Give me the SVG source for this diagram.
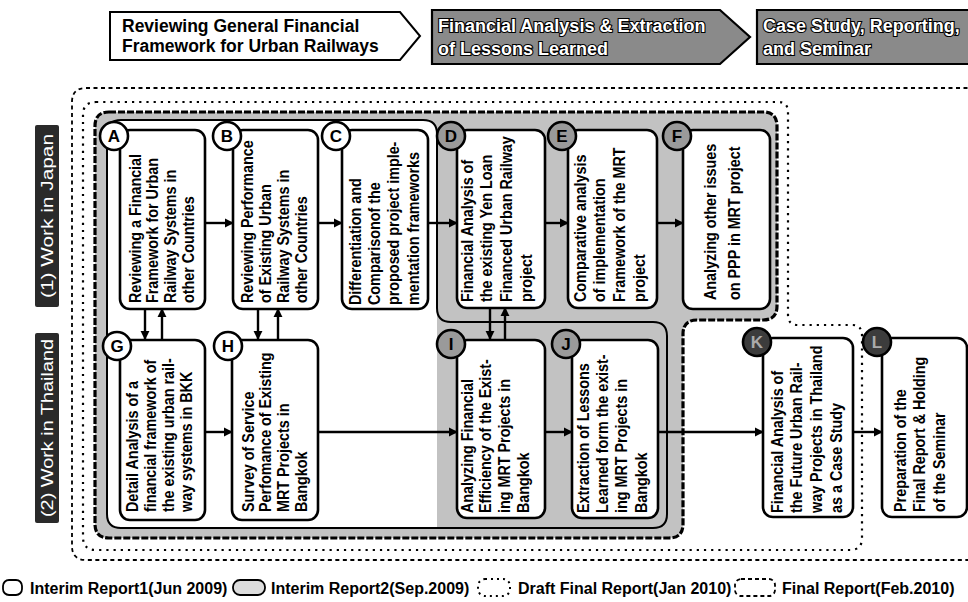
<svg xmlns="http://www.w3.org/2000/svg" width="968" height="602" viewBox="0 0 968 602">
<defs>
<marker id="ah" viewBox="0 0 10 10" refX="9" refY="5" markerWidth="3.8" markerHeight="3.8" orient="auto" markerUnits="strokeWidth">
<path d="M0,0 L10,5 L0,10 z" fill="#000"/>
</marker>
<style>
.box{fill:#fff;stroke:#000;stroke-width:2.6}
.t{font-family:"Liberation Sans",Arial,sans-serif;font-weight:bold;font-size:16.5px;fill:#000}
.cw{fill:#fff;stroke:#000;stroke-width:2.6}
.cg{fill:#9a9a9a;stroke:#000;stroke-width:2.6}
.cd{fill:#3c3c3c;stroke:#000;stroke-width:2.6}
.cl{font-family:"Liberation Sans",Arial,sans-serif;font-weight:bold;font-size:17px;text-anchor:middle;fill:#000}
.cld{font-family:"Liberation Sans",Arial,sans-serif;font-weight:bold;font-size:17px;text-anchor:middle;fill:#aaa}
.conn line{stroke:#000;stroke-width:2.4;fill:none;marker-end:url(#ah)}
.hd{font-family:"Liberation Sans",Arial,sans-serif;font-weight:bold;font-size:17.5px;fill:#000}
.hg{font-family:"Liberation Sans",Arial,sans-serif;font-weight:bold;font-size:18px;fill:#fff;stroke:#000;stroke-width:2.2;paint-order:stroke}
.lab{font-family:"Liberation Sans",Arial,sans-serif;font-size:17px;fill:#fff;text-anchor:middle}
.lg{font-family:"Liberation Sans",Arial,sans-serif;font-weight:bold;font-size:16px;fill:#000}
</style>
</defs>
<rect width="968" height="602" fill="#fff"/>

<!-- header -->
<g id="phase1">
<path d="M110,12 H400 L420,36 L400,60 H110 Z" fill="#fff" stroke="#000" stroke-width="2"/>
<text class="hd" x="122" y="32">Reviewing General Financial</text>
<text class="hd" x="122" y="52">Framework for Urban Railways</text>
</g>
<g id="phase2">
<path d="M432,10 H720 L750,37 L720,64 H432 Z" fill="#8a8a8a" stroke="#000" stroke-width="2.2"/>
<text class="hg" x="438" y="32">Financial Analysis &amp; Extraction</text>
<text class="hg" x="438" y="55">of Lessons Learned</text>
</g>
<g id="phase3">
<path d="M757,10 H975 V64 H757 Z" fill="#8a8a8a" stroke="#000" stroke-width="2.2"/>
<text class="hg" x="763" y="32">Case Study, Reporting,</text>
<text class="hg" x="763" y="55">and Seminar</text>
</g>

<!-- left labels -->
<g id="japan">
<rect x="35" y="125" width="24" height="182" rx="2" fill="#2a2a2a"/>
<text class="lab" transform="translate(53,216) rotate(-90)" textLength="164" lengthAdjust="spacingAndGlyphs">(1) Work in Japan</text>
</g>
<g id="thailand">
<rect x="35" y="333" width="24" height="190" rx="2" fill="#2a2a2a"/>
<text class="lab" transform="translate(53,428) rotate(-90)" textLength="178" lengthAdjust="spacingAndGlyphs">(2) Work in Thailand</text>
</g>

<!-- report boundaries -->
<g id="boundaries">
<path d="M975,88 H86 Q72,88 72,102 V546 Q72,560 86,560 H975" fill="none" stroke="#000" stroke-width="1.8" stroke-dasharray="4 3.5"/>
<path d="M96,102 H778 Q788,102 788,112 V315 Q788,325 798,325 H852 Q862,325 862,335 V538 Q862,550 850,550 H96 Q83,550 83,537 V115 Q83,102 96,102 Z" fill="none" stroke="#000" stroke-width="2.2" stroke-dasharray="2.2 5"/>
<path d="M109,112 H763 Q777,112 777,126 V306 Q777,320 763,320 H697 Q683,320 683,334 V524 Q683,538 669,538 H109 Q95,538 95,524 V126 Q95,112 109,112 Z" fill="#c2c2c2" stroke="#000" stroke-width="3.2" stroke-dasharray="7 2"/>
<path d="M121,120 H423 Q437,120 437,134 V528 H121 Q107,528 107,514 V134 Q107,120 121,120 Z" fill="#fff"/>
<path d="M121,120 H423 Q437,120 437,134 V308 Q437,322 451,322 H653 Q667,322 667,336 V514 Q667,528 653,528 H121 Q107,528 107,514 V134 Q107,120 121,120 Z" fill="none" stroke="#000" stroke-width="2"/>
</g>

<!-- connectors -->
<g id="connectors" class="conn">
<line x1="205" y1="223" x2="233" y2="223"/>
<line x1="318" y1="223" x2="342" y2="223"/>
<line x1="428" y1="223" x2="457" y2="223"/>
<line x1="545" y1="223" x2="568" y2="223"/>
<line x1="657" y1="223" x2="683" y2="223"/>
<line x1="145" y1="309" x2="145" y2="339"/>
<line x1="162" y1="339" x2="162" y2="309"/>
<line x1="258" y1="309" x2="258" y2="339"/>
<line x1="278" y1="339" x2="278" y2="309"/>
<line x1="490" y1="308" x2="490" y2="339"/>
<line x1="505" y1="339" x2="505" y2="308"/>
<line x1="205" y1="432" x2="232" y2="432"/>
<line x1="318" y1="432" x2="457" y2="432"/>
<line x1="545" y1="432" x2="572" y2="432"/>
<line x1="658" y1="432" x2="763" y2="432"/>
<line x1="853" y1="432" x2="882" y2="432"/>
</g>

<!-- nodes -->
<g id="A">
<rect class="box" x="120" y="130" width="85" height="179" rx="10"/>
<circle class="cw" cx="114" cy="136" r="14"/><text class="cl" x="114" y="142">A</text>
<text class="t" transform="translate(140.5,303) rotate(-90) scale(0.87,1)"><tspan x="0" dy="0">Reviewing a Financial</tspan><tspan x="0" dy="17.7">Framework for Urban</tspan><tspan x="0" dy="17.7">Railway Systems in</tspan><tspan x="0" dy="17.7">other Countries</tspan></text>
</g>
<g id="B">
<rect class="box" x="233" y="130" width="85" height="179" rx="10"/>
<circle class="cw" cx="227" cy="136" r="14"/><text class="cl" x="227" y="142">B</text>
<text class="t" transform="translate(252.5,303) rotate(-90) scale(0.87,1)"><tspan x="0" dy="0">Reviewing Performance</tspan><tspan x="0" dy="18.3">of Existing Urban</tspan><tspan x="0" dy="18.3">Railway Systems in</tspan><tspan x="0" dy="18.3">other Countries</tspan></text>
</g>
<g id="C">
<rect class="box" x="342" y="130" width="86" height="179" rx="10"/>
<circle class="cw" cx="336" cy="136" r="14"/><text class="cl" x="336" y="142">C</text>
<text class="t" transform="translate(360.5,305) rotate(-90) scale(0.87,1)"><tspan x="0" dy="0">Differentiation and</tspan><tspan x="0" dy="19.5">Comparisonof the</tspan><tspan x="0" dy="19.5">proposed project imple-</tspan><tspan x="0" dy="19.5">mentation frameworks</tspan></text>
</g>
<g id="D">
<rect class="box" x="457" y="130" width="88" height="178" rx="10"/>
<circle class="cg" cx="451" cy="136" r="14"/><text class="cl" x="451" y="142">D</text>
<text class="t" transform="translate(472.5,302) rotate(-90) scale(0.87,1)"><tspan x="0" dy="0">Financial Analysis of</tspan><tspan x="0" dy="20">the existing Yen Loan</tspan><tspan x="0" dy="20">Financed Urban Railway</tspan><tspan x="0" dy="20">project</tspan></text>
</g>
<g id="E">
<rect class="box" x="568" y="130" width="89" height="178" rx="10"/>
<circle class="cg" cx="562" cy="136" r="14"/><text class="cl" x="562" y="142">E</text>
<text class="t" transform="translate(585.5,302) rotate(-90) scale(0.87,1)"><tspan x="0" dy="0">Comparative analysis</tspan><tspan x="0" dy="20">of implementation</tspan><tspan x="0" dy="20">Framework of the MRT</tspan><tspan x="0" dy="20">project</tspan></text>
</g>
<g id="F">
<rect class="box" x="683" y="130" width="87" height="179" rx="10"/>
<circle class="cg" cx="677" cy="136" r="14"/><text class="cl" x="677" y="142">F</text>
<text class="t" transform="translate(715.5,300) rotate(-90) scale(0.87,1)"><tspan x="0" dy="0">Analyzing other issues</tspan><tspan x="0" dy="25">on PPP in MRT  project</tspan></text>
</g>
<g id="G">
<rect class="box" x="120" y="340" width="85" height="180" rx="10"/>
<circle class="cw" cx="117" cy="346" r="14"/><text class="cl" x="117" y="352">G</text>
<text class="t" transform="translate(137.5,512) rotate(-90) scale(0.87,1)"><tspan x="0" dy="0">Detail Analysis of a</tspan><tspan x="0" dy="18.3">financial framework of</tspan><tspan x="0" dy="18.3">the existing urban rail-</tspan><tspan x="0" dy="18.3">way systems in BKK</tspan></text>
</g>
<g id="H">
<rect class="box" x="232" y="340" width="86" height="180" rx="10"/>
<circle class="cw" cx="228" cy="346" r="14"/><text class="cl" x="228" y="352">H</text>
<text class="t" transform="translate(253.5,512) rotate(-90) scale(0.87,1)"><tspan x="0" dy="0">Survey of Service</tspan><tspan x="0" dy="18">Perfomance of Existing</tspan><tspan x="0" dy="18">MRT Projects in</tspan><tspan x="0" dy="18">Bangkok</tspan></text>
</g>
<g id="I">
<rect class="box" x="457" y="340" width="88" height="178" rx="10"/>
<circle class="cg" cx="451" cy="344" r="14"/><text class="cl" x="451" y="350">I</text>
<text class="t" transform="translate(472.5,513) rotate(-90) scale(0.87,1)"><tspan x="0" dy="0">Analyzing Financial</tspan><tspan x="0" dy="18.7">Efficiency of the Exist-</tspan><tspan x="0" dy="18.7">ing MRT Projects in</tspan><tspan x="0" dy="18.7">Bangkok</tspan></text>
</g>
<g id="J">
<rect class="box" x="572" y="340" width="86" height="178" rx="10"/>
<circle class="cg" cx="566" cy="344" r="14"/><text class="cl" x="566" y="350">J</text>
<text class="t" transform="translate(588.5,513) rotate(-90) scale(0.87,1)"><tspan x="0" dy="0">Extraction of Lessons</tspan><tspan x="0" dy="19.5">Learned form the exist-</tspan><tspan x="0" dy="19.5">ing MRT Projects in</tspan><tspan x="0" dy="19.5">Bangkok</tspan></text>
</g>
<g id="K">
<rect class="box" x="763" y="338" width="90" height="179" rx="10"/>
<circle class="cd" cx="757" cy="342" r="14"/><text class="cld" x="757" y="348">K</text>
<text class="t" transform="translate(782.5,513) rotate(-90) scale(0.87,1)"><tspan x="0" dy="0">Financial Analysis of</tspan><tspan x="0" dy="20">the Future Urban Rail-</tspan><tspan x="0" dy="20">way Projects in Thailand</tspan><tspan x="0" dy="20">as a Case Study</tspan></text>
</g>
<g id="L">
<rect class="box" x="882" y="338" width="85" height="179" rx="10"/>
<circle class="cd" cx="877" cy="342" r="14"/><text class="cld" x="877" y="348">L</text>
<text class="t" transform="translate(905.5,512) rotate(-90) scale(0.87,1)"><tspan x="0" dy="0">Preparation of the</tspan><tspan x="0" dy="20">Final Report &amp; Holding</tspan><tspan x="0" dy="20">of the Seminar</tspan></text>
</g>

<!-- legend -->
<g id="legend">
<rect x="3" y="580" width="19" height="15" rx="6" fill="#fff" stroke="#000" stroke-width="1.8"/>
<text class="lg" x="30" y="594">Interim Report1(Jun 2009)</text>
<rect x="233" y="580" width="32" height="15" rx="7" fill="#ddd" stroke="#000" stroke-width="1.8"/>
<text class="lg" x="271" y="594">Interim Report2(Sep.2009)</text>
<rect x="478" y="579" width="32" height="17" rx="7" fill="none" stroke="#000" stroke-width="2" stroke-dasharray="2 4"/>
<text class="lg" x="518" y="594">Draft Final Report(Jan 2010)</text>
<rect x="735" y="579" width="40" height="17" rx="6" fill="none" stroke="#000" stroke-width="1.8" stroke-dasharray="4 3"/>
<text class="lg" x="782" y="594">Final Report(Feb.2010)</text>
</g>
</svg>
